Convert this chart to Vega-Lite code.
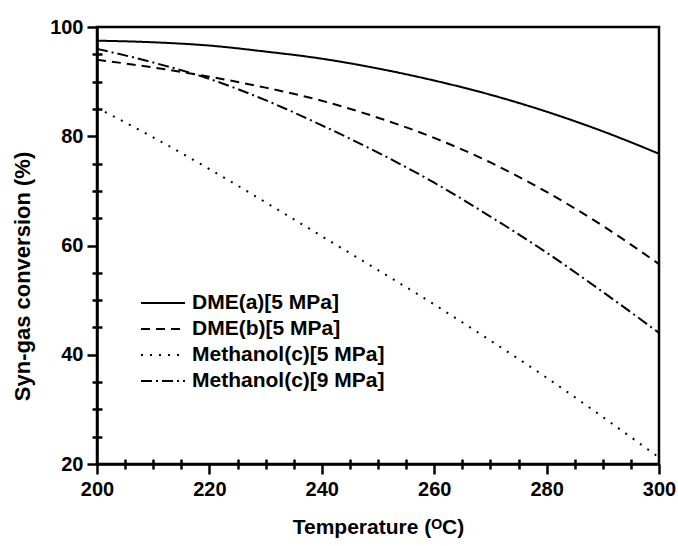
{
  "$schema": "https://vega.github.io/schema/vega-lite/v6.json",
  "width": 562,
  "height": 437,
  "autosize": {"type": "none"},
  "padding": {"left": 97, "top": 27, "right": 19, "bottom": 82},
  "background": "white",
  "config": {"view": {"stroke": "black", "strokeWidth": 2.5}, "font": "Liberation Sans"},
  "data": {"values": [
    {"T": 200, "v": 97.5, "series": "DME(a)[5 MPa]"},
    {"T": 210, "v": 97.2, "series": "DME(a)[5 MPa]"},
    {"T": 220, "v": 96.6, "series": "DME(a)[5 MPa]"},
    {"T": 230, "v": 95.5, "series": "DME(a)[5 MPa]"},
    {"T": 240, "v": 94.2, "series": "DME(a)[5 MPa]"},
    {"T": 250, "v": 92.4, "series": "DME(a)[5 MPa]"},
    {"T": 260, "v": 90.2, "series": "DME(a)[5 MPa]"},
    {"T": 270, "v": 87.6, "series": "DME(a)[5 MPa]"},
    {"T": 280, "v": 84.5, "series": "DME(a)[5 MPa]"},
    {"T": 290, "v": 80.9, "series": "DME(a)[5 MPa]"},
    {"T": 300, "v": 76.8, "series": "DME(a)[5 MPa]"},
    {"T": 200, "v": 94.0, "series": "DME(b)[5 MPa]"},
    {"T": 210, "v": 92.6, "series": "DME(b)[5 MPa]"},
    {"T": 220, "v": 90.9, "series": "DME(b)[5 MPa]"},
    {"T": 230, "v": 88.9, "series": "DME(b)[5 MPa]"},
    {"T": 240, "v": 86.5, "series": "DME(b)[5 MPa]"},
    {"T": 250, "v": 83.4, "series": "DME(b)[5 MPa]"},
    {"T": 260, "v": 79.7, "series": "DME(b)[5 MPa]"},
    {"T": 270, "v": 75.2, "series": "DME(b)[5 MPa]"},
    {"T": 280, "v": 69.8, "series": "DME(b)[5 MPa]"},
    {"T": 290, "v": 63.6, "series": "DME(b)[5 MPa]"},
    {"T": 300, "v": 56.6, "series": "DME(b)[5 MPa]"},
    {"T": 200, "v": 85.2, "series": "Methanol(c)[5 MPa]"},
    {"T": 210, "v": 79.8, "series": "Methanol(c)[5 MPa]"},
    {"T": 220, "v": 74.0, "series": "Methanol(c)[5 MPa]"},
    {"T": 230, "v": 67.9, "series": "Methanol(c)[5 MPa]"},
    {"T": 240, "v": 61.7, "series": "Methanol(c)[5 MPa]"},
    {"T": 250, "v": 55.5, "series": "Methanol(c)[5 MPa]"},
    {"T": 260, "v": 49.2, "series": "Methanol(c)[5 MPa]"},
    {"T": 270, "v": 42.6, "series": "Methanol(c)[5 MPa]"},
    {"T": 280, "v": 35.8, "series": "Methanol(c)[5 MPa]"},
    {"T": 290, "v": 28.6, "series": "Methanol(c)[5 MPa]"},
    {"T": 300, "v": 21.2, "series": "Methanol(c)[5 MPa]"},
    {"T": 200, "v": 96.0, "series": "Methanol(c)[9 MPa]"},
    {"T": 210, "v": 93.5, "series": "Methanol(c)[9 MPa]"},
    {"T": 220, "v": 90.5, "series": "Methanol(c)[9 MPa]"},
    {"T": 230, "v": 86.6, "series": "Methanol(c)[9 MPa]"},
    {"T": 240, "v": 82.0, "series": "Methanol(c)[9 MPa]"},
    {"T": 250, "v": 77.0, "series": "Methanol(c)[9 MPa]"},
    {"T": 260, "v": 71.5, "series": "Methanol(c)[9 MPa]"},
    {"T": 270, "v": 65.3, "series": "Methanol(c)[9 MPa]"},
    {"T": 280, "v": 58.7, "series": "Methanol(c)[9 MPa]"},
    {"T": 290, "v": 51.5, "series": "Methanol(c)[9 MPa]"},
    {"T": 300, "v": 44.0, "series": "Methanol(c)[9 MPa]"}
  ]},
  "layer": [
    {
      "mark": {"type": "line", "opacity": 0},
      "encoding": {
        "x": {
          "field": "T", "type": "quantitative",
          "scale": {"domain": [200, 300], "nice": false, "zero": false},
          "axis": {
            "orient": "bottom", "title": null, "labels": false, "domain": false, "grid": false,
            "values": [205,210,215,225,230,235,245,250,255,265,270,275,285,290,295],
            "offset": -5, "tickSize": 10, "tickColor": "black", "tickWidth": 2.5
          }
        },
        "y": {
          "field": "v", "type": "quantitative",
          "scale": {"domain": [20, 100], "nice": false, "zero": false},
          "axis": {
            "orient": "left", "title": null, "labels": false, "domain": false, "grid": false,
            "values": [25,30,35,45,50,55,65,70,75,85,90,95],
            "offset": -5, "tickSize": 10, "tickColor": "black", "tickWidth": 2.5
          }
        },
        "detail": {"field": "series", "type": "nominal"}
      }
    },
    {
      "mark": {"type": "line", "color": "black", "strokeWidth": 2, "interpolate": "monotone"},
      "encoding": {
        "x": {
          "field": "T", "type": "quantitative",
          "axis": {
            "orient": "bottom",
            "title": "Temperature (ᴼC)",
            "values": [200, 220, 240, 260, 280, 300],
            "labelFont": "Liberation Sans", "labelFontSize": 20, "labelFontWeight": "bold", "labelColor": "black",
            "labelPadding": 5, "labelFlush": false, "labelOverlap": false,
            "titleFont": "Liberation Sans", "titleFontSize": 21, "titleFontWeight": "bold", "titleColor": "black", "titlePadding": 17,
            "domainColor": "black", "domainWidth": 2.5, "grid": false,
            "tickColor": "black", "tickWidth": 2.5, "tickSize": 10
          }
        },
        "y": {
          "field": "v", "type": "quantitative",
          "axis": {
            "orient": "left",
            "title": "Syn-gas conversion (%)",
            "values": [20, 40, 60, 80, 100],
            "labelFont": "Liberation Sans", "labelFontSize": 20, "labelFontWeight": "bold", "labelColor": "black",
            "labelPadding": 4, "labelFlush": false, "labelOverlap": false,
            "titleFont": "Liberation Sans", "titleFontSize": 22, "titleFontWeight": "bold", "titleColor": "black",
            "titleX": -63, "titleY": 249, "titleAngle": 270, "titleAlign": "center", "titleBaseline": "bottom",
            "domainColor": "black", "domainWidth": 2.5, "grid": false,
            "tickColor": "black", "tickWidth": 2.5, "tickSize": 10
          }
        },
        "strokeDash": {
          "field": "series", "type": "nominal",
          "scale": {
            "domain": ["DME(a)[5 MPa]", "DME(b)[5 MPa]", "Methanol(c)[5 MPa]", "Methanol(c)[9 MPa]"],
            "range": [[1, 0], [9, 6], [2, 7], [11, 4, 2, 4]]
          },
          "legend": {
            "title": null, "orient": "none", "legendX": 55, "legendY": 265,
            "symbolType": "M-2.2,0H2.2", "symbolSize": 400, "symbolStrokeWidth": 2, "symbolStrokeColor": "black", "symbolFillColor": "transparent",
            "labelFont": "Liberation Sans", "labelFontSize": 21, "labelFontWeight": "bold", "labelColor": "black",
            "labelLimit": 0, "rowPadding": 5, "labelOffset": 18
          }
        }
      }
    }
  ],
  "resolve": {"axis": {"x": "independent", "y": "independent"}}
}
